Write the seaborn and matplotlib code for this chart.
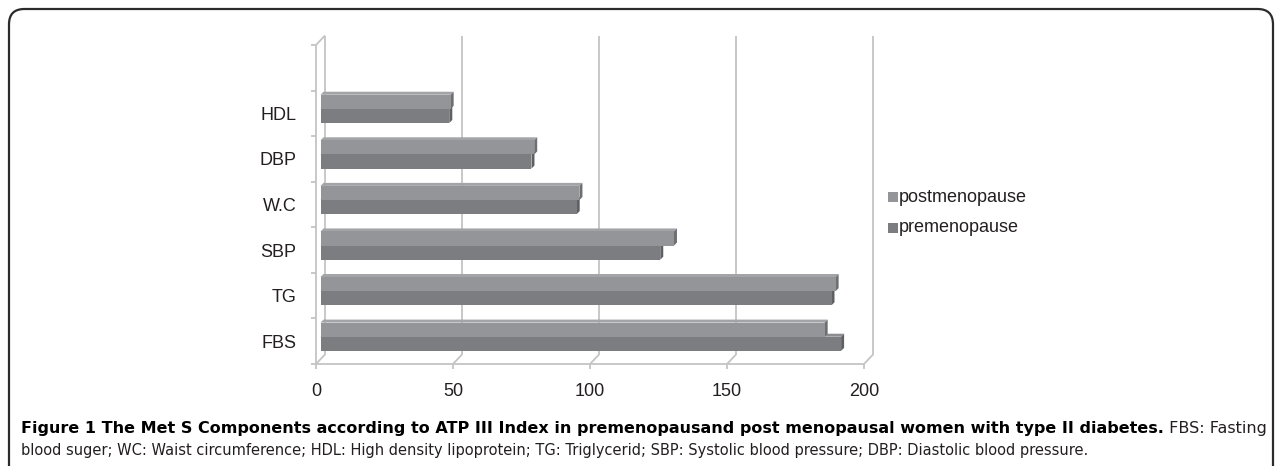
import numpy as np
import pandas as pd
import matplotlib
matplotlib.use("Agg")
import matplotlib.pyplot as plt
import seaborn as sns
from matplotlib.patches import Polygon, FancyBboxPatch, Rectangle
from matplotlib.lines import Line2D
from matplotlib.transforms import IdentityTransform
from matplotlib import font_manager

# ---------------- data ----------------
categories = ["HDL", "DBP", "W.C", "SBP", "TG", "FBS"]
postmenopause = [47.5, 78, 94.5, 129, 188, 184]
premenopause = [47, 77, 93.5, 124, 186.5, 190]
series = ["postmenopause", "premenopause"]
x_ticks = [0, 50, 100, 150, 200]

caption_bold = ("Figure 1 The Met S Components according to ATP III Index in "
                "premenopausand post menopausal women with type II diabetes.")
caption_reg1 = " FBS: Fasting"
caption_line2 = ("blood suger; WC: Waist circumference; HDL: High density lipoprotein; "
                 "TG: Triglycerid; SBP: Systolic blood pressure; DBP: Diastolic blood pressure.")

df = pd.DataFrame({
    "component": categories * 2,
    "value": postmenopause + premenopause,
    "group": [series[0]] * len(categories) + [series[1]] * len(categories),
})

# ---------------- style ----------------
W, H = 1282, 466
sns.set_theme(style="white")
plt.rcParams["font.family"] = ["Liberation Sans", "DejaVu Sans"]

face = {"postmenopause": "#949598", "premenopause": "#7c7d81"}
topc = {"postmenopause": "#a3a4a7", "premenopause": "#8c8d91"}
endc = {"postmenopause": "#6e6f73", "premenopause": "#5f6064"}
grid_c = "#c4c4c4"
txt_c = "#231f20"

fig = plt.figure(figsize=(W / 100, H / 100), dpi=100)

# front plane of the plot (pixels from top-left)
L, R, T, B = 316, 864, 45, 364
ax = fig.add_axes([L / W, 1 - B / H, (R - L) / W, (B - T) / H])
ax.patch.set_alpha(0)

sns.barplot(data=df, y="component", x="value", hue="group", hue_order=series,
            order=categories, palette=face, orient="h", width=0.62, ax=ax,
            saturation=1, edgecolor="none", linewidth=0, legend=False, errorbar=None)

ax.set_xlim(0, 200)
ax.set_ylim(len(categories) - 0.5, -1.5)
ax.set_xlabel("")
ax.set_ylabel("")
for s in ax.spines.values():
    s.set_visible(False)
ax.set_xticks(x_ticks)
ax.set_xticklabels([str(v) for v in x_ticks])
ax.set_yticks(range(len(categories)))
ax.set_yticklabels(categories)
ax.tick_params(axis="both", length=0, labelsize=13, colors=txt_c)
ax.tick_params(axis="x", pad=14)
ax.tick_params(axis="y", pad=14)
ax.grid(False)

fig.canvas.draw()
ident = IdentityTransform()

def disp(x, y):
    return ax.transData.transform((x, y))

DX, DY = 9, 9.5        # chart depth (display px, y up)
BX, BY = 4.5, 4.5      # bar plane offset
bd = 3                 # bar depth

def line(p0, p1, **kw):
    ln = Line2D([p0[0], p1[0]], [p0[1], p1[1]], transform=ident,
                color=grid_c, lw=1.3, solid_capstyle="butt", **kw)
    fig.add_artist(ln)

ybot, ytop = len(categories) - 0.5, -1.5
# back gridlines
for xv in x_ticks:
    a = disp(xv, ybot); b = disp(xv, ytop)
    line((a[0] + DX, a[1] + DY), (b[0] + DX, b[1] + DY))
    line(a, (a[0] + DX, a[1] + DY))      # floor diagonals
    line(a, (a[0], a[1] - 5))            # x ticks
line(disp(0, ybot), disp(200, ybot))     # floor front edge
p_top = disp(0, ytop)
line(disp(0, ybot), p_top)               # left wall front edge
line(p_top, (p_top[0] + DX, p_top[1] + DY))
for yb in np.arange(ytop, ybot + 0.01, 1.0):
    p = disp(0, yb)
    line(p, (p[0] - 5, p[1]))            # y ticks at slot boundaries

# 3D bars built from the seaborn bar geometry
bars = [p for p in ax.patches if isinstance(p, Rectangle)]
n = len(categories)
zs = {"premenopause": 3, "postmenopause": 4}
for i, p in enumerate(bars):
    grp = series[i // n]
    x0, y0 = p.get_x(), p.get_y()
    w, h = p.get_width(), p.get_height()
    (ax0, ay0) = disp(x0, y0)
    (ax1, ay1) = disp(x0 + w, y0 + h)
    xl, xr = ax0 + BX, ax1 + BX
    yt, yb_ = max(ay0, ay1) + BY, min(ay0, ay1) + BY
    z = zs[grp]
    front = Polygon([(xl, yb_), (xr, yb_), (xr, yt), (xl, yt)], closed=True,
                    transform=ident, facecolor=face[grp], edgecolor="none", zorder=z)
    top = Polygon([(xl, yt), (xr, yt), (xr + bd, yt + bd), (xl + bd, yt + bd)], closed=True,
                  transform=ident, facecolor=topc[grp], edgecolor="none", zorder=z)
    end = Polygon([(xr, yb_), (xr + bd, yb_ + bd), (xr + bd, yt + bd), (xr, yt)], closed=True,
                  transform=ident, facecolor=endc[grp], edgecolor="none", zorder=z)
    for pg in (top, end, front):
        fig.add_artist(pg)
    p.set_visible(False)

# legend (squares + text)
leg_x, leg_y = 888, [197, 228]
for k, grp in enumerate(series):
    yy = H - leg_y[k]
    fig.add_artist(Rectangle((leg_x, yy - 5), 10, 10, transform=ident,
                             facecolor=face[grp], edgecolor="none"))
    fig.text((leg_x + 11) / W, yy / H, grp, fontsize=13, color=txt_c,
             va="center", ha="left")

# outer rounded frame
frame = FancyBboxPatch((9 / W, -20 / H), (1273 - 9) / W, (H - 9 + 20) / H,
                       boxstyle="round,pad=0,rounding_size=0.012",
                       transform=fig.transFigure, facecolor="none",
                       edgecolor="#2b2b2b", linewidth=1.6, mutation_aspect=W / H)
fig.add_artist(frame)

# caption
avail = [f.name for f in font_manager.fontManager.ttflist]
cap_fam = ["Liberation Sans Narrow", "DejaVu Sans"] if "Liberation Sans Narrow" in avail \
    else ["DejaVu Sans Condensed", "DejaVu Sans"]
renderer = fig.canvas.get_renderer()
cx = 21
y1, y2 = 429, 450

# line 2, fitted to width
fs2 = 12.0
t2 = fig.text(cx / W, 1 - y2 / H, caption_line2, fontsize=fs2, family=cap_fam,
              color=txt_c, va="center", ha="left")
for _ in range(3):
    wpx = t2.get_window_extent(renderer).width
    fs2 = fs2 * (1068 / wpx)
    t2.set_fontsize(fs2)

# line 1 (bold + regular), fitted to width
fs1 = fs2
t1 = fig.text(cx / W, 1 - y1 / H, caption_bold, fontsize=fs1, family=cap_fam,
              fontweight="bold", color="#000000", va="center", ha="left")
t1b = fig.text(0, 1 - y1 / H, caption_reg1, fontsize=fs1, family=cap_fam,
               color=txt_c, va="center", ha="left")
for _ in range(3):
    wtot = t1.get_window_extent(renderer).width + t1b.get_window_extent(renderer).width
    fs1 = fs1 * (1241 / wtot)
    t1.set_fontsize(fs1)
    t1b.set_fontsize(fs1)
w1 = t1.get_window_extent(renderer).width
t1b.set_position(((cx + w1) / W, 1 - y1 / H))

fig.savefig("out.png", dpi=100)
